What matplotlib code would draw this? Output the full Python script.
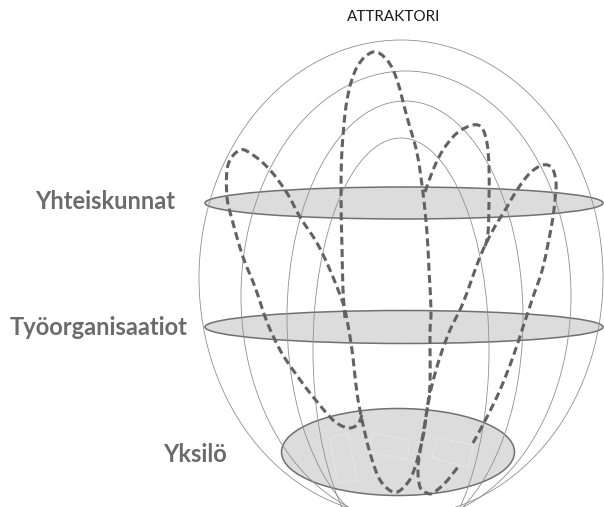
import numpy as np
import matplotlib.pyplot as plt
from matplotlib.patches import Ellipse, Polygon, PathPatch
from matplotlib.path import Path

plt.rcParams['font.family'] = ['Lato', 'DejaVu Sans']

title = "ATTRAKTORI"
level_names = ["Yhteiskunnat", "Työorganisaatiot", "Yksilö"]

# globe meridians: centre x, centre y, half width, half height (pixels)
arc_cx = [401, 406, 405, 401]
arc_cy = [278, 296, 318, 350]
arc_a = [202, 165, 118, 88]
arc_b = [238, 225, 217, 212]

# level discs
disc_cx = [404, 404, 398]
disc_cy = [203, 327, 452]
disc_w = [398, 398, 233]
disc_h = [32, 33, 87]
label_right = [175, 188, 227]
label_base = [209, 335, 462]

# faint squares on the individual disc
squares = [
    [(330, 438), (348, 433), (357, 480), (338, 483)],
    [(372, 433), (410, 440), (407, 460), (368, 452)],
    [(437, 437), (473, 445), (468, 467), (432, 458)],
]

# attractor trajectories (hand drawn loops)
loop_left = [(362, 415), (358, 424), (350, 428), (340, 425), (330, 417), (310, 393),
             (293, 370), (280, 350), (267, 322), (255, 287), (243, 257), (233, 223),
             (227, 197), (228, 165), (240, 150), (253, 155), (270, 170), (287, 193),
             (300, 217), (317, 243), (330, 270), (343, 303), (347, 320), (352, 350),
             (357, 393), (362, 420), (370, 453), (380, 480), (393, 492), (403, 488),
             (413, 473), (423, 437), (427, 410), (432, 385), (440, 357), (450, 330),
             (463, 303), (480, 257), (493, 230), (507, 207), (517, 190), (530, 173),
             (543, 165), (552, 168), (556, 182), (555, 200), (552, 223), (543, 267),
             (533, 297), (523, 327), (513, 357), (500, 390), (487, 417), (473, 443)]
loop_tall = [(345, 318), (343, 290), (342, 247), (341, 197), (342, 150), (347, 100),
             (357, 67), (373, 52), (387, 60), (397, 80), (407, 117), (417, 153),
             (423, 193), (427, 233), (429, 270), (431, 310), (430, 333), (430, 383),
             (427, 410), (422, 440), (418, 467), (420, 487), (427, 493), (433, 493),
             (445, 483), (458, 467)]
loop_mid = [(425, 192), (433, 170), (443, 150), (457, 133), (473, 125), (482, 128),
            (487, 143), (489, 167), (489, 200), (488, 233), (484, 250)]


def smooth_path(pts):
    p = np.asarray(pts, float)
    verts = [p[0]]
    codes = [Path.MOVETO]
    for i in range(len(p) - 1):
        p0 = p[i - 1] if i > 0 else p[i]
        p1 = p[i]
        p2 = p[i + 1]
        p3 = p[i + 2] if i + 2 < len(p) else p[i + 1]
        verts += [p1 + (p2 - p0) / 6, p2 - (p3 - p1) / 6, p2]
        codes += [Path.CURVE4] * 3
    return Path(verts, codes)


fig = plt.figure(figsize=(6.04, 5.07), dpi=100)
ax = fig.add_axes([0, 0, 1, 1])
ax.set_xlim(0, 604)
ax.set_ylim(507, 0)
ax.axis('off')

for cx, cy, w, h in zip(disc_cx, disc_cy, disc_w, disc_h):
    ax.add_patch(Ellipse((cx, cy), w, h, fc='#dcdcdc', ec='#707070', lw=1.1, zorder=1))

for sq in squares:
    ax.add_patch(Polygon(sq, closed=True, fill=False, ec='#ebebeb', lw=0.5, zorder=2))

for cx, cy, a, b in zip(arc_cx, arc_cy, arc_a, arc_b):
    ax.add_patch(Ellipse((cx, cy), 2 * a, 2 * b, fill=False, ec='#8f8f8f', lw=0.6, zorder=2))

for pts in [loop_left, loop_tall, loop_mid]:
    ax.add_patch(PathPatch(smooth_path(pts), fill=False, ec='#626262', lw=2.2,
                           linestyle=(0, (2.6, 1.4)), zorder=3))

ax.text(394, 21, title, ha='center', va='baseline', fontsize=11, color='#1a1a1a')
for name, x, y in zip(level_names, label_right, label_base):
    ax.text(x, y, name, ha='right', va='baseline', fontsize=17, fontweight='bold',
            color='#6b6b6b')

fig.savefig('out.png', dpi=100)
